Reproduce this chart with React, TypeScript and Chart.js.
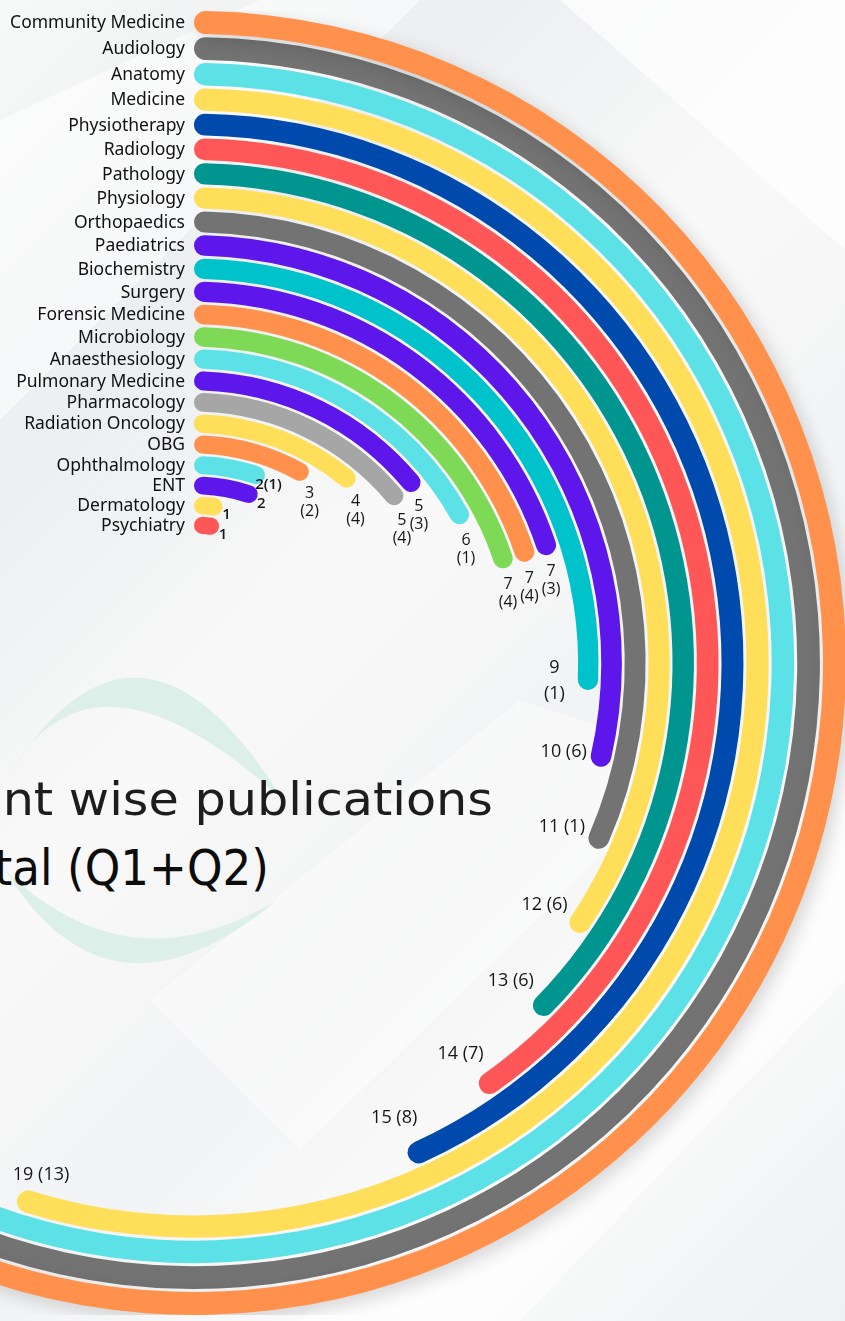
import React, { useEffect, useRef } from 'react';
import { Chart, registerables } from 'chart.js';

Chart.register(...registerables);

// ---- data (outermost ring first) ----
const departments = [
  'Community Medicine', 'Audiology', 'Anatomy', 'Medicine', 'Physiotherapy', 'Radiology',
  'Pathology', 'Physiology', 'Orthopaedics', 'Paediatrics', 'Biochemistry', 'Surgery',
  'Forensic Medicine', 'Microbiology', 'Anaesthesiology', 'Pulmonary Medicine', 'Pharmacology',
  'Radiation Oncology', 'OBG', 'Ophthalmology', 'ENT', 'Dermatology', 'Psychiatry',
];
const totalPublications = [31, 25, 22, 19, 15, 14, 13, 12, 11, 10, 9, 7, 7, 7, 6, 5, 5, 4, 3, 2, 2, 1, 1];
const q1q2Publications: (number | null)[] = [20, 16, 14, 13, 8, 7, 6, 6, 1, 6, 1, 3, 4, 4, 1, 3, 4, 4, 2, 1, null, null, null];
const ringColors = [
  '#FF914D', '#737373', '#5CE1E6', '#FFDE59', '#004AAD', '#FF5757',
  '#00968F', '#FFDE59', '#737373', '#5E17EB', '#00C2CB', '#5E17EB',
  '#FF914D', '#7ED957', '#5CE1E6', '#5E17EB', '#A6A6A6',
  '#FFDE59', '#FF914D', '#5CE1E6', '#5E17EB', '#FFDE59', '#FF5757',
];
const SCALE_MAX = 34.5;

const titleLine1 = 'Department wise publications';
const titleLine2 = 'Total (Q1+Q2)';

// ---- chart geometry ----
const CANVAS = 1304;
const R = CANVAS / 2;
const n = departments.length;
const slot = (k: number) => 19.6 + (6.5 * k) / (n - 1); // k = 0 innermost

function buildDatasets() {
  const ds: any[] = [];
  let total = 0;
  departments.forEach((name, i) => {
    const k = n - 1 - i;
    const w = 0.88 * slot(k);
    total += w;
    ds.push({
      label: name,
      data: [totalPublications[i], SCALE_MAX - totalPublications[i]],
      backgroundColor: [ringColors[i], 'rgba(0,0,0,0)'],
      borderWidth: 0,
      borderRadius: [40, 0],
      weight: w,
      isRing: true,
      ringIndex: i,
    });
    if (i < n - 1) {
      const g = (0.12 * (slot(k) + slot(k - 1))) / 2;
      total += g;
      ds.push({
        label: '',
        data: [SCALE_MAX],
        backgroundColor: ['rgba(0,0,0,0)'],
        borderWidth: 0,
        weight: g,
        isRing: false,
      });
    }
  });
  return { ds, total };
}

const ringLabels = {
  id: 'ringLabels',
  beforeDatasetDraw(chart: any, args: any) {
    if (args.index === 0) {
      const c = chart.ctx;
      c.save();
      c.shadowColor = 'rgba(0,0,0,0.16)';
      c.shadowBlur = 18;
      c.shadowOffsetX = 5;
      c.shadowOffsetY = 6;
    }
  },
  afterDatasetDraw(chart: any, args: any) {
    if (args.index === 0) chart.ctx.restore();
  },
  afterDatasetsDraw(chart: any) {
    const ctx = chart.ctx;
    chart.data.datasets.forEach((ds: any, di: number) => {
      if (!ds.isRing) return;
      const arc = chart.getDatasetMeta(di).data[0];
      const { x, y, endAngle, innerRadius, outerRadius } = arc.getProps(
        ['x', 'y', 'endAngle', 'innerRadius', 'outerRadius'], true);
      const rm = (innerRadius + outerRadius) / 2;
      const i = ds.ringIndex;
      ctx.save();
      // category label at ring start
      ctx.font = '17.5px "Noto Sans", "Open Sans", sans-serif';
      ctx.fillStyle = '#111111';
      ctx.textAlign = 'right';
      ctx.textBaseline = 'middle';
      ctx.fillText(departments[i], x - 9, y - rm + 1);

      // value label at ring end
      const v = totalPublications[i];
      const q = q1q2Publications[i];
      const deg = ((endAngle + Math.PI / 2) * 180) / Math.PI;
      const tx = x + rm * Math.cos(endAngle);
      const ty = y + rm * Math.sin(endAngle);
      ctx.fillStyle = '#161616';
      ctx.textAlign = 'center';
      ctx.textBaseline = 'middle';
      if (deg < 28) {
        ctx.font = '600 15px "Open Sans", sans-serif';
        ctx.fillText(q != null ? `${v}(${q})` : `${v}`, tx + 4, ty + 7);
      } else if (deg < 85) {
        ctx.font = '16px "Open Sans", sans-serif';
        ctx.fillText(`${v}`, tx + 2, ty + 17);
        if (q != null) ctx.fillText(`(${q})`, tx + 2, ty + 35);
      } else {
        const ux = (x - tx) / rm;
        const uy = (y - ty) / rm;
        ctx.font = '18px "Open Sans", sans-serif';
        if (deg >= 180) {
          const bx = Math.sin(endAngle);
          const by = -Math.cos(endAngle);
          ctx.fillText(q != null ? `${v} (${q})` : `${v}`, tx + 30 * ux + 15 * bx, ty + 30 * uy + 15 * by);
        } else {
          const cx = tx + 36 * ux;
          const cy = ty + 36 * uy - 6;
          if (deg < 100) {
            ctx.fillText(`${v}`, cx + 3, cy - 14);
            if (q != null) ctx.fillText(`(${q})`, cx + 3, cy + 12);
          } else {
            ctx.fillText(q != null ? `${v} (${q})` : `${v}`, cx, cy);
          }
        }
      }
      ctx.restore();
    });
  },
};

export default function App() {
  const ref = useRef<HTMLCanvasElement>(null);
  useEffect(() => {
    const { ds, total } = buildDatasets();
    const cutout = ((R - total) / R) * 100;
    const chart = new Chart(ref.current as HTMLCanvasElement, {
      type: 'doughnut',
      data: { labels: ['Publications', 'Rest'], datasets: ds },
      options: {
        responsive: false,
        animation: false,
        cutout: `${cutout}%`,
        rotation: 0,
        circumference: 360,
        layout: { padding: 0 },
        elements: { arc: { borderWidth: 0 } },
        plugins: { legend: { display: false }, tooltip: { enabled: false }, title: { display: false } },
      } as any,
      plugins: [ringLabels],
    });
    return () => chart.destroy();
  }, []);

  return (
    <div
      style={{
        position: 'fixed', left: 0, top: 0, width: 845, height: 1321, overflow: 'hidden',
        background: 'linear-gradient(135deg, #f7f8f8 0%, #eceeef 22%, #f9f9f9 42%, #f2f3f4 60%, #fbfbfb 78%, #eef0f1 100%)',
      }}
    >
      <svg width={845} height={1321} style={{ position: 'absolute', left: 0, top: 0 }}>
        <polygon points="0,120 260,0 420,0 0,420" fill="rgba(255,255,255,0.55)" />
        <polygon points="300,1321 845,760 845,980 520,1321" fill="rgba(255,255,255,0.6)" />
        <polygon points="150,1000 520,700 700,760 300,1150" fill="rgba(255,255,255,0.45)" />
        <polygon points="560,0 845,0 845,250" fill="rgba(255,255,255,0.7)" />
        <path d="M10,773 Q140,570 283,800 Q94,628 10,773 Z" fill="#dcefe9" />
        <path d="M5,870 Q110,1040 277,900 Q130,990 5,870 Z" fill="#dcefe9" />
        <text x={493} y={815} textAnchor="end" fontFamily="'DejaVu Sans', sans-serif" fontSize={47}
          fill="#1d1d1d" textLength={738} lengthAdjust="spacingAndGlyphs">{titleLine1}</text>
        <text x={269} y={885} textAnchor="end" fontFamily="'DejaVu Sans', sans-serif" fontSize={50}
          fill="#0c0c0c" textLength={322} lengthAdjust="spacingAndGlyphs">{titleLine2}</text>
      </svg>
      <canvas
        ref={ref}
        width={CANVAS}
        height={CANVAS}
        style={{ position: 'absolute', left: 194 - R, top: 663 - R, width: CANVAS, height: CANVAS }}
      />
    </div>
  );
}
